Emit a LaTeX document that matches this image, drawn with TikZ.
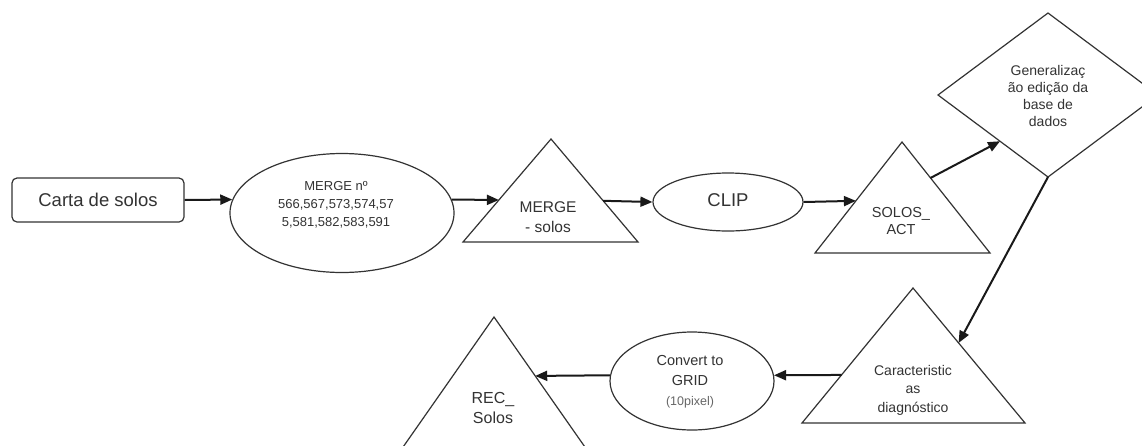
\documentclass[tikz,border=0pt]{standalone}
\usepackage{fontspec}
\setmainfont{Liberation Sans}
\usetikzlibrary{shapes.geometric,arrows.meta,calc}

\begin{document}
\begin{tikzpicture}[x=1pt,y=-1pt,
  outline/.style={draw=black!80, line width=1.2pt},
  flow/.style={draw=black!90, line width=2pt, -{Triangle[length=12pt,width=10pt]}},
  txt/.style={text=black!80, align=center, inner sep=0pt},
  oval/.style={outline, ellipse, inner sep=0pt},
]
\useasboundingbox (0,0) rectangle (1142,445);
\clip (0,0) rectangle (1142,445);
\fill[white] (0,0) rectangle (1142,445);

% --- top row ---
\node[outline, rounded corners=5pt, minimum width=172pt, minimum height=44pt,
      txt, font=\fontsize{18.5}{21}\selectfont] (carta) at (98,200) {Carta de solos};

\node[oval, minimum width=224pt, minimum height=119pt] (me) at (342,213) {};
\node[txt, font=\fontsize{13}{18}\selectfont] (metxt) at (336,205)
  {MERGE nº\\566,567,573,574,57\\5,581,582,583,591};

\coordinate (mt-t) at (551,139);
\coordinate (mt-l) at (463,242);
\coordinate (mt-r) at (638,242);
\draw[outline] (mt-t) -- (mt-l) -- (mt-r) -- cycle;
\node[txt, font=\fontsize{15.5}{20}\selectfont] (mt) at (548,217) {MERGE\\- solos};

\node[oval, minimum width=150pt, minimum height=58pt,
      txt, font=\fontsize{18.5}{21}\selectfont] (clip) at (728,202) {\raisebox{3pt}{CLIP}};

\coordinate (st-t) at (902,142);
\coordinate (st-l) at (815,253);
\coordinate (st-r) at (990,253);
\draw[outline] (st-t) -- (st-l) -- (st-r) -- cycle;
\node[txt, font=\fontsize{14.5}{17}\selectfont] (st) at (901,221) {SOLOS\_\\ACT};

\coordinate (dm-t) at (1048,13);
\coordinate (dm-l) at (938,95);
\coordinate (dm-b) at (1048,177);
\coordinate (dm-r) at (1158,95);
\draw[outline] (dm-t) -- (dm-l) -- (dm-b) -- (dm-r) -- cycle;
\node[txt, font=\fontsize{14}{17.3}\selectfont] (dm) at (1048,96)
  {Generalizaç\\ão edição da\\base de\\dados};

% --- bottom row ---
\coordinate (ct-t) at (913,288);
\coordinate (ct-l) at (802,423);
\coordinate (ct-r) at (1025,423);
\draw[outline] (ct-t) -- (ct-l) -- (ct-r) -- cycle;
\node[txt, font=\fontsize{14}{18.5}\selectfont] (ct) at (913,390)
  {Caracteristic\\as\\diagnóstico};

\node[oval, minimum width=164pt, minimum height=98pt] (cv) at (692,381) {};
\node[txt, font=\fontsize{14.5}{20}\selectfont] (cvtxt) at (690,382)
  {Convert to\\GRID\\{\color{black!60}\fontsize{12.5}{20}\selectfont(10pixel)}};

\coordinate (rt-t) at (494,317);
\coordinate (rt-l) at (366,500);
\coordinate (rt-r) at (622,500);
\draw[outline] (rt-t) -- (rt-l) -- (rt-r) -- cycle;
\node[txt, font=\fontsize{16}{20}\selectfont] (rt) at (493,408) {REC\_\\Solos};

% --- connectors ---
\draw[flow] (carta.east) -- (me.173);
\draw[flow] (me.7) -- ($(mt-t)!0.592!(mt-l)$);
\draw[flow] ($(mt-t)!0.60!(mt-r)$) -- (clip.west);
\draw[flow] (clip.east) -- ($(st-t)!0.53!(st-l)$);
\draw[flow] ($(st-t)!0.324!(st-r)$) -- ($(dm-l)!0.564!(dm-b)$);
\draw[flow] (dm-b) -- ($(ct-t)!0.407!(ct-r)$);
\draw[flow] ($(ct-t)!0.644!(ct-l)$) -- (cv.4);
\draw[flow] (cv.176) -- ($(rt-t)!0.322!(rt-r)$);
\end{tikzpicture}
\end{document}
